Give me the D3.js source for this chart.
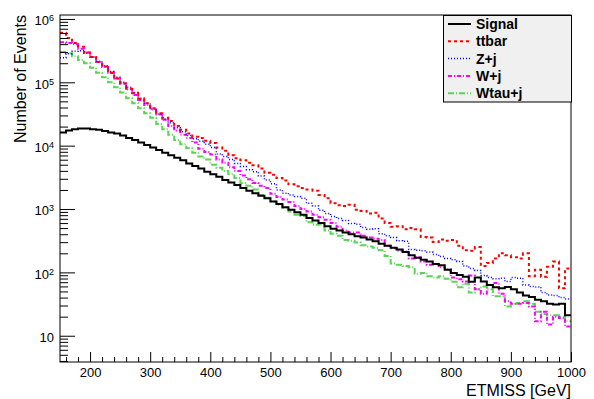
<!DOCTYPE html>
<html>
<head>
<meta charset="utf-8">
<script src="https://cdn.jsdelivr.net/npm/d3@7"></script>
<style>
  body { margin: 0; background: #fff; }
  svg { font-family: "Liberation Sans", Arial, Helvetica, sans-serif; }
</style>
</head>
<body>
<svg width="594" height="399"></svg>
<script>
// ETMISS histograms, 10 GeV bins from 150 to 1000 GeV
const binStart = 150, binWidth = 10, nBins = 85;

const signal = [16200,17400,18200,18600,18600,18200,17800,17000,16200,15500,
  14500,13200,12300,11200,10200,9330,8510,7760,7080,6460,
  5890,5250,4790,4370,3890,3550,3240,2880,2630,2400,
  2140,1950,1780,1620,1480,1320,1200,1070,977,891,
  813,724,661,603,537,490,457,427,398,372,
  355,331,309,282,263,245,229,209,186,170,
  158,148,135,129,110,98,91,85,71,83,
  72,63,58,56,59,54,48,43,41,37,
  35,32,31,32,21];

const ttbar = [603000,501000,417000,363000,295000,251000,209000,178000,141000,115000,
  95500,79400,67600,55000,46800,38900,32400,27500,24500,20400,
  17800,15500,13800,13200,12000,11000,9330,8320,7080,6310,
  5890,5370,4900,4370,3720,3470,3090,2820,2450,2290,
  2140,2040,1950,1660,1480,1230,1150,1120,1170,977,
  933,851,871,708,603,525,537,479,501,479,
  363,355,302,331,316,324,263,224,219,251,
  126,141,166,200,186,174,166,200,87,110,
  85,123,148,56,115];

const zjets = [245000,282000,309000,316000,288000,251000,214000,182000,148000,120000,
  100000,83200,69200,56200,46800,38000,31600,26300,22900,19100,
  16600,14500,12900,11700,10500,9330,7410,6760,6030,5250,
  4680,4170,3890,3310,2880,2510,2000,1780,1660,1580,
  1480,1230,1120,955,851,759,708,661,589,575,
  513,479,490,407,380,355,316,309,229,224,
  219,209,191,178,166,158,148,126,115,107,
  89,83,79,81,72,83,81,63,60,59,
  48,44,43,40,38];

const wjets = [427000,417000,398000,339000,295000,251000,209000,174000,141000,115000,
  95500,77600,63100,52500,43700,37200,30900,25700,20400,17400,
  14800,13200,11200,8910,7940,7240,6030,5370,4570,3980,
  3390,2950,2570,2340,2140,1740,1550,1410,1290,1120,
  1000,912,813,741,676,603,525,457,427,427,
  380,355,339,324,263,240,219,214,166,174,
  148,132,135,120,112,83,78,72,89,54,
  46,63,68,46,35,32,32,33,29,17,
  24,15,20,19,14];

const wtaujets = [302000,288000,257000,224000,200000,170000,141000,120000,100000,83200,
  69200,56200,46800,38900,32400,27500,21900,18200,14800,12300,
  10500,9120,7760,6760,6030,5010,4470,3980,3550,3090,
  2570,2340,2040,1660,1510,1320,1170,1050,912,813,
  776,617,562,575,457,407,380,324,316,295,
  269,257,245,224,182,138,132,126,120,95,
  98,87,83,87,79,71,58,66,48,54,
  60,54,42,42,29,32,33,35,32,24,
  22,21,21,20,17];

const seriesNames = ["Signal", "ttbar", "Z+j", "W+j", "Wtau+j"];
const xTicks = [200, 300, 400, 500, 600, 700, 800, 900, 1000];
const yTicks = [10, 100, 1000, 10000, 100000, 1000000];

const series = [
  { name: seriesNames[0], values: signal,   color: "#000000", width: 2,   dash: null },
  { name: seriesNames[1], values: ttbar,    color: "#ff0000", width: 2,   dash: "3,3" },
  { name: seriesNames[2], values: zjets,    color: "#0000ff", width: 1.5, dash: "1,2" },
  { name: seriesNames[3], values: wjets,    color: "#ff00ff", width: 2,   dash: "4,2,1,2" },
  { name: seriesNames[4], values: wtaujets, color: "#59d454", width: 2,   dash: "6,2,1,2" }
];

const svg = d3.select("svg");
const pLeft = 60, pRight = 571, pTop = 15, pBottom = 362;

const x = d3.scaleLinear().domain([150, 1000]).range([pLeft, pRight]);
const y = d3.scaleLog().domain([3.85, 1.154e6]).range([pBottom, pTop]);

svg.append("defs").append("clipPath").attr("id", "frame")
  .append("rect").attr("x", pLeft).attr("y", pTop)
  .attr("width", pRight - pLeft).attr("height", pBottom - pTop);

// histograms, drawn back to front, signal last
const line = d3.line()
  .x(d => x(d[0]))
  .y(d => y(d[1]))
  .curve(d3.curveStepAfter);

const plot = svg.append("g").attr("clip-path", "url(#frame)");
series.slice(1).reverse().concat([series[0]]).forEach(s => {
  const pts = s.values.map((v, i) => [binStart + i * binWidth, v]);
  pts.push([binStart + nBins * binWidth, s.values[s.values.length - 1]]);
  plot.append("path")
    .datum(pts)
    .attr("d", line)
    .attr("fill", "none")
    .attr("stroke", s.color)
    .attr("stroke-width", s.width)
    .attr("stroke-dasharray", s.dash);
});

// frame
svg.append("rect")
  .attr("x", pLeft).attr("y", pTop)
  .attr("width", pRight - pLeft).attr("height", pBottom - pTop)
  .attr("fill", "none").attr("stroke", "#000").attr("stroke-width", 1);

// x axis
const xMinor = d3.range(160, 1000, 20).filter(v => v % 100 !== 0);
svg.append("g")
  .attr("transform", "translate(0," + pBottom + ")")
  .call(d3.axisBottom(x).tickValues(xMinor).tickSizeInner(-5).tickSizeOuter(0).tickFormat(""))
  .call(g => g.select(".domain").remove());
svg.append("g")
  .attr("transform", "translate(0," + pBottom + ")")
  .call(d3.axisBottom(x).tickValues(xTicks).tickSizeInner(-10).tickSizeOuter(0)
    .tickPadding(6).tickFormat(d3.format("d")))
  .call(g => g.select(".domain").remove())
  .selectAll("text")
    .attr("font-size", 13)
    .attr("font-family", "Liberation Sans, Arial, sans-serif")
    .attr("fill", "#000");

// y axis
const yMinor = [];
[1, 10, 100, 1000, 10000, 100000].forEach(dec => {
  for (let k = 2; k <= 9; k++) {
    const v = dec * k;
    if (v > 3.85 && v < 1.154e6) yMinor.push(v);
  }
});
svg.append("g")
  .attr("transform", "translate(" + pLeft + ",0)")
  .call(d3.axisLeft(y).tickValues(yMinor).tickSizeInner(-8).tickSizeOuter(0).tickFormat(""))
  .call(g => g.select(".domain").remove());
const yAxis = svg.append("g")
  .attr("transform", "translate(" + pLeft + ",0)")
  .call(d3.axisLeft(y).tickValues(yTicks).tickSizeInner(-15).tickSizeOuter(0).tickPadding(6).tickFormat(""))
  .call(g => g.select(".domain").remove());
yAxis.selectAll(".tick text").each(function(d) {
  const t = d3.select(this)
    .attr("font-size", 13)
    .attr("font-family", "Liberation Sans, Arial, sans-serif")
    .attr("fill", "#000")
    .attr("dy", "0.45em");
  const e = Math.round(Math.log10(d));
  if (e === 1) {
    t.text("10");
  } else {
    t.append("tspan").text("10");
    t.append("tspan").attr("font-size", 9).attr("dy", "-0.45em").text(e);
  }
});

// axis titles
svg.append("text")
  .attr("x", pRight).attr("y", 396)
  .attr("text-anchor", "end")
  .attr("font-size", 16)
  .text("ETMISS [GeV]");
svg.append("text")
  .attr("transform", "translate(26," + pTop + ") rotate(-90)")
  .attr("text-anchor", "end")
  .attr("font-size", 16)
  .text("Number of Events");

// legend
const legend = svg.append("g");
legend.append("rect")
  .attr("x", 443.5).attr("y", 15.5).attr("width", 128).attr("height", 86.5)
  .attr("fill", "#f0f0f0").attr("stroke", "#000").attr("stroke-width", 1);
series.forEach((s, i) => {
  const cy = 24 + i * 17.3;
  legend.append("line")
    .attr("x1", 448).attr("x2", 471).attr("y1", cy).attr("y2", cy)
    .attr("stroke", s.color).attr("stroke-width", s.width)
    .attr("stroke-dasharray", s.dash);
  legend.append("text")
    .attr("x", 476).attr("y", cy + 5)
    .attr("font-size", 14).attr("font-weight", "bold")
    .text(s.name);
});
</script>
</body>
</html>
